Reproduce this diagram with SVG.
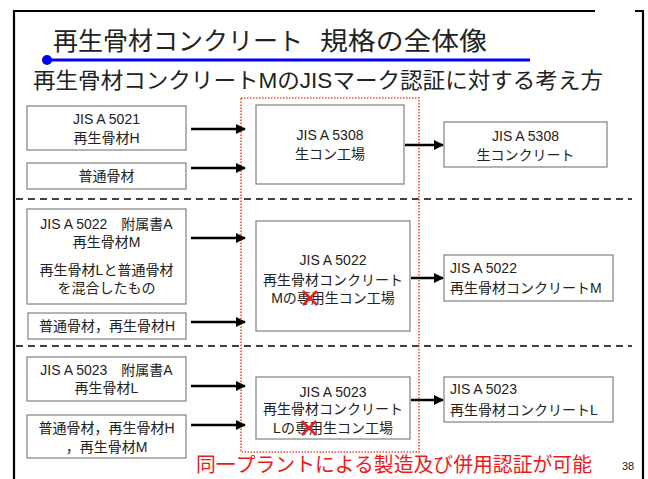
<svg xmlns="http://www.w3.org/2000/svg" width="648" height="479" viewBox="0 0 648 479">
<defs>
<style>
.t{font-family:"Liberation Sans","Noto Sans CJK JP",sans-serif;fill:#222;}
.bx{font-size:14px;text-anchor:middle;}
.bl{font-size:14px;text-anchor:start;}
.box{fill:#fff;stroke:#808080;stroke-width:1.2;}
.arr{stroke:#000;stroke-width:2.5;fill:none;marker-end:url(#ah);}
.dash{stroke:#404040;stroke-width:2;stroke-dasharray:7 5;fill:none;}
.x{stroke:#e82020;stroke-width:2.5;}
</style>
<marker id="ah" viewBox="0 0 10 10" refX="9" refY="5" markerWidth="4" markerHeight="4" orient="auto" markerUnits="strokeWidth">
<path d="M0,0 L10,5 L0,10 z" fill="#000"/>
</marker>
</defs>
<rect width="648" height="479" fill="#fff"/>
<g id="frame" fill="none" stroke="#000" stroke-width="2.2">
<path d="M14,479 V11 H595"/>
<path d="M635,11 H643 V479"/>
</g>
<g id="title">
<text class="t" y="50" font-size="25"><tspan x="53" textLength="250" lengthAdjust="spacingAndGlyphs">再生骨材コンクリート</tspan><tspan x="320" textLength="167" lengthAdjust="spacingAndGlyphs">規格の全体像</tspan></text>
<line x1="46" y1="60" x2="530" y2="60" stroke="#0000ff" stroke-width="3"/>
<circle cx="47" cy="60" r="5" fill="#0000ff"/>
<text class="t" x="33" y="88" font-size="22" textLength="570" lengthAdjust="spacingAndGlyphs">再生骨材コンクリートMのJISマーク認証に対する考え方</text>
</g>
<g id="dividers">
<line class="dash" x1="16" y1="199" x2="632" y2="199"/>
<line class="dash" x1="16" y1="346" x2="632" y2="346"/>
</g>
<g id="plant-region">
<rect x="241" y="98" width="178" height="354" fill="none" stroke="#ff4a2a" stroke-width="1.6" stroke-dasharray="1.5 1.5"/>
</g>
<g id="connectors">
<line class="arr" x1="191" y1="129" x2="245" y2="129"/>
<line class="arr" x1="191" y1="168" x2="245" y2="168"/>
<line class="arr" x1="405" y1="145" x2="443" y2="145"/>
<line class="arr" x1="191" y1="238" x2="245" y2="238"/>
<line class="arr" x1="191" y1="322" x2="245" y2="322"/>
<line class="arr" x1="411" y1="278" x2="443" y2="278"/>
<line class="arr" x1="191" y1="386" x2="245" y2="386"/>
<line class="arr" x1="191" y1="425" x2="245" y2="425"/>
<line class="arr" x1="411" y1="400" x2="443" y2="400"/>
</g>
<g id="n-5021">
<rect class="box" x="27" y="106" width="159" height="44"/>
<text class="t bx" x="106.5" y="124">JIS A 5021</text>
<text class="t bx" x="106.5" y="143">再生骨材H</text>
</g>
<g id="n-futsu1">
<rect class="box" x="27" y="163" width="159" height="26"/>
<text class="t bx" x="106.5" y="181">普通骨材</text>
</g>
<g id="n-5308-plant">
<rect class="box" x="256" y="105" width="148" height="79"/>
<text class="t bx" x="330" y="140">JIS A 5308</text>
<text class="t bx" x="330" y="159">生コン工場</text>
</g>
<g id="n-5308">
<rect class="box" x="444" y="122" width="163" height="45"/>
<text class="t bx" x="525.5" y="141">JIS A 5308</text>
<text class="t bx" x="525.5" y="160">生コンクリート</text>
</g>
<g id="n-5022-agg">
<rect class="box" x="27" y="209" width="159" height="95"/>
<text class="t bx" x="106.5" y="229">JIS A 5022　附属書A</text>
<text class="t bx" x="106.5" y="247">再生骨材M</text>
<text class="t bx" x="106.5" y="275">再生骨材Lと普通骨材</text>
<text class="t bx" x="106.5" y="293">を混合したもの</text>
</g>
<g id="n-futsu2">
<rect class="box" x="28" y="313" width="158" height="26"/>
<text class="t bx" x="107" y="331">普通骨材，再生骨材H</text>
</g>
<g id="n-5022-plant">
<rect class="box" x="256" y="221" width="154" height="110"/>
<text class="t bx" x="333" y="265">JIS A 5022</text>
<text class="t bx" x="333" y="285">再生骨材コンクリート</text>
<text class="t bx" x="333" y="303">Mの専用生コン工場</text>
<path class="x" d="M303,291 L317,305 M317,291 L303,305"/>
</g>
<g id="n-5022">
<rect class="box" x="444" y="255" width="169" height="46"/>
<text class="t bl" x="450" y="273">JIS A 5022</text>
<text class="t bl" x="450" y="293">再生骨材コンクリートM</text>
</g>
<g id="n-5023-agg">
<rect class="box" x="27" y="357" width="159" height="44"/>
<text class="t bx" x="106.5" y="375">JIS A 5023　附属書A</text>
<text class="t bx" x="106.5" y="393">再生骨材L</text>
</g>
<g id="n-futsu3">
<rect class="box" x="27" y="415" width="159" height="43"/>
<text class="t bx" x="106.5" y="433">普通骨材，再生骨材H</text>
<text class="t bx" x="106.5" y="452">，再生骨材M</text>
</g>
<g id="n-5023-plant">
<rect class="box" x="256" y="377" width="154" height="62"/>
<text class="t bx" x="333" y="397">JIS A 5023</text>
<text class="t bx" x="333" y="414">再生骨材コンクリート</text>
<text class="t bx" x="333" y="433">Lの専用生コン工場</text>
<path class="x" d="M302,421 L316,435 M316,421 L302,435"/>
</g>
<g id="n-5023">
<rect class="box" x="444" y="377" width="169" height="45"/>
<text class="t bl" x="450" y="394">JIS A 5023</text>
<text class="t bl" x="450" y="415">再生骨材コンクリートL</text>
</g>
<g id="footer">
<text class="t" x="196" y="472" font-size="20" fill="#f01818" style="fill:#f01818" textLength="396" lengthAdjust="spacingAndGlyphs">同一プラントによる製造及び併用認証が可能</text>
<text class="t" x="622" y="470" font-size="11">38</text>
</g>
</svg>
